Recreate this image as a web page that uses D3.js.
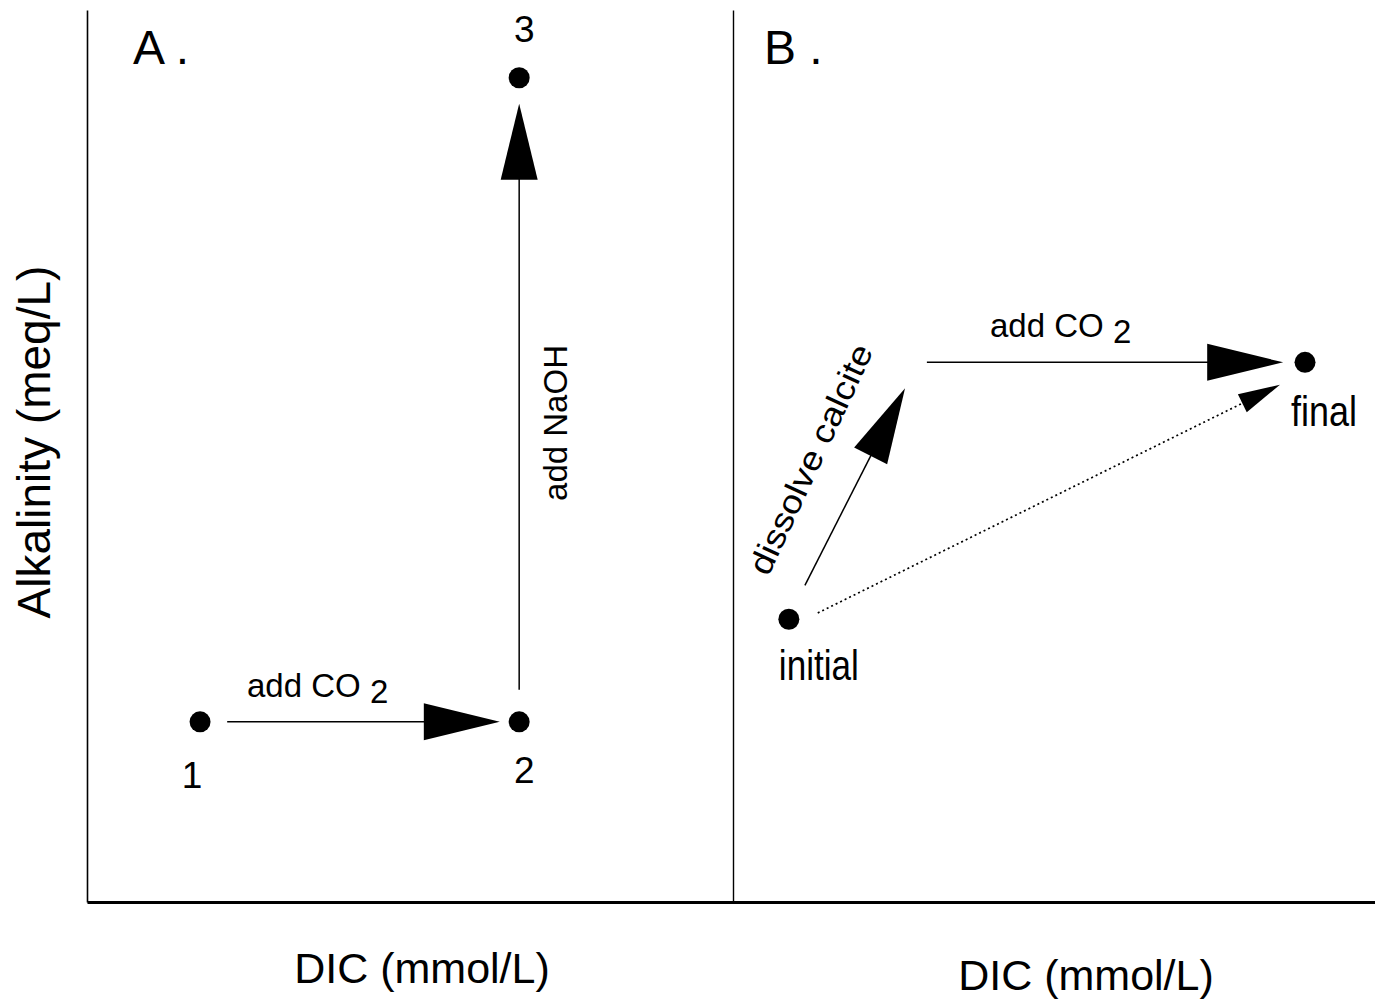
<!DOCTYPE html>
<html><head><meta charset="utf-8">
<script src="https://cdn.jsdelivr.net/npm/d3@7"></script>
<style>body{margin:0;background:#fff}svg{display:block}text{font-family:"Liberation Sans",Arial,sans-serif;fill:#000}</style>
</head><body>
<script>
// ---- data (abstract chart units) ----
const pointNamesA = ["1", "2", "3"];
const pointDICA   = [1.75, 6.69, 6.69];
const pointAlkA   = [2.02, 2.02, 9.24];

const pointNamesB = ["initial", "final"];
const pointDICB   = [0.87, 8.91];
const pointAlkB   = [3.17, 6.05];

const arrowNamesA = ["add CO2", "add NaOH"];
const arrowFromA  = [[2.17, 2.02], [6.69, 2.38]];
const arrowToA    = [[6.39, 2.02], [6.69, 8.95]];

const arrowNamesB = ["dissolve calcite", "add CO2", "net"];
const arrowFromB  = [[1.12, 3.55], [3.02, 6.05], [1.32, 3.24]];
const arrowToB    = [[2.68, 5.76], [8.57, 6.05], [8.52, 5.80]];

const panelLabels = ["A .", "B ."];
const xTitle = "DIC (mmol/L)";
const yTitle = "Alkalinity (meq/L)";

// ---- layout ----
const W = 1375, H = 1007;
const svg = d3.select("body").append("svg").attr("width", W).attr("height", H);
const y  = d3.scaleLinear().domain([0, 10]).range([902, 10]);
const xA = d3.scaleLinear().domain([0, 10]).range([87, 733]);
const xB = d3.scaleLinear().domain([0, 10]).range([733, 1375]);

// axes
svg.append("g").attr("transform", "translate(87,0)")
  .call(d3.axisLeft(y).ticks(0).tickSizeOuter(0))
  .call(g => g.select(".domain").attr("stroke-width", 1.6));
svg.append("g").attr("transform", "translate(733,0)")
  .call(d3.axisLeft(y).ticks(0).tickSizeOuter(0))
  .call(g => g.select(".domain").attr("stroke-width", 1.4));
const xAll = d3.scaleLinear().domain([0, 20]).range([87, 1375]);
svg.append("g").attr("transform", "translate(0,902)")
  .call(d3.axisBottom(xAll).ticks(0).tickSizeOuter(0))
  .call(g => g.select(".domain").attr("stroke-width", 3));

// arrow helper
function arrow(x, p0, p1, opt) {
  const X0 = x(p0[0]), Y0 = y(p0[1]), X1 = x(p1[0]), Y1 = y(p1[1]);
  const dx = X1 - X0, dy = Y1 - Y0, L = Math.hypot(dx, dy);
  const ux = dx / L, uy = dy / L, nx = -uy, ny = ux;
  const bx = X1 - ux * opt.len, by = Y1 - uy * opt.len;
  svg.append("line").attr("x1", X0).attr("y1", Y0)
    .attr("x2", bx + ux * 3).attr("y2", by + uy * 3)
    .attr("stroke", "#000").attr("stroke-width", opt.sw)
    .attr("stroke-dasharray", opt.dash || null);
  const pts = [[X1, Y1], [bx + nx * opt.hw, by + ny * opt.hw], [bx - nx * opt.hw, by - ny * opt.hw]];
  svg.append("path").attr("d", "M" + pts.map(p => p.join(",")).join("L") + "Z").attr("fill", "#000");
}
const bigHead = {len: 76, hw: 18.5, sw: 1.5};
arrowNamesA.forEach((n, i) => arrow(xA, arrowFromA[i], arrowToA[i], bigHead));
arrowNamesB.forEach((n, i) => arrow(xB, arrowFromB[i], arrowToB[i],
  n === "net" ? {len: 42, hw: 10, sw: 1.7, dash: "2,3"} : bigHead));

// points
pointNamesA.forEach((n, i) => svg.append("circle").attr("cx", xA(pointDICA[i])).attr("cy", y(pointAlkA[i])).attr("r", 10.5));
pointNamesB.forEach((n, i) => svg.append("circle").attr("cx", xB(pointDICB[i])).attr("cy", y(pointAlkB[i])).attr("r", 10.5));

// point labels
const labOffA = [[-8, 66], [5, 61], [5, -36]];
pointNamesA.forEach((n, i) => svg.append("text")
  .attr("x", xA(pointDICA[i]) + labOffA[i][0]).attr("y", y(pointAlkA[i]) + labOffA[i][1])
  .attr("text-anchor", "middle").attr("font-size", 37).text(n));
const labOffB = [[30, 61, 80], [19, 64, 66]];
pointNamesB.forEach((n, i) => svg.append("text")
  .attr("x", xB(pointDICB[i]) + labOffB[i][0]).attr("y", y(pointAlkB[i]) + labOffB[i][1])
  .attr("text-anchor", "middle").attr("font-size", 42)
  .attr("textLength", labOffB[i][2]).attr("lengthAdjust", "spacingAndGlyphs").text(n));

// arrow labels
function co2(x0, yb) {
  const t = svg.append("text").attr("x", x0).attr("y", yb).attr("font-size", 33);
  t.append("tspan").text("add CO ");
  t.append("tspan").attr("dy", 6).text("2");
}
co2(247, 697);
co2(990, 337);
svg.append("text").attr("transform", "translate(567,423) rotate(-90)")
  .attr("text-anchor", "middle").attr("font-size", 33).text("add NaOH");
svg.append("text").attr("transform", "translate(821,464) rotate(-65)")
  .attr("text-anchor", "middle").attr("font-size", 33)
  .attr("textLength", 250).attr("lengthAdjust", "spacingAndGlyphs").text("dissolve calcite");

// panel labels
svg.append("text").attr("x", 133).attr("y", 64).attr("font-size", 48).text(panelLabels[0]);
svg.append("text").attr("x", 764).attr("y", 64).attr("font-size", 48).text(panelLabels[1]);

// axis titles
svg.append("text").attr("x", 422).attr("y", 983).attr("text-anchor", "middle").attr("font-size", 43).text(xTitle);
svg.append("text").attr("x", 1086).attr("y", 990).attr("text-anchor", "middle").attr("font-size", 43).text(xTitle);
svg.append("text").attr("transform", "translate(50,442) rotate(-90)")
  .attr("text-anchor", "middle").attr("font-size", 46).text(yTitle);
</script>
</body></html>
